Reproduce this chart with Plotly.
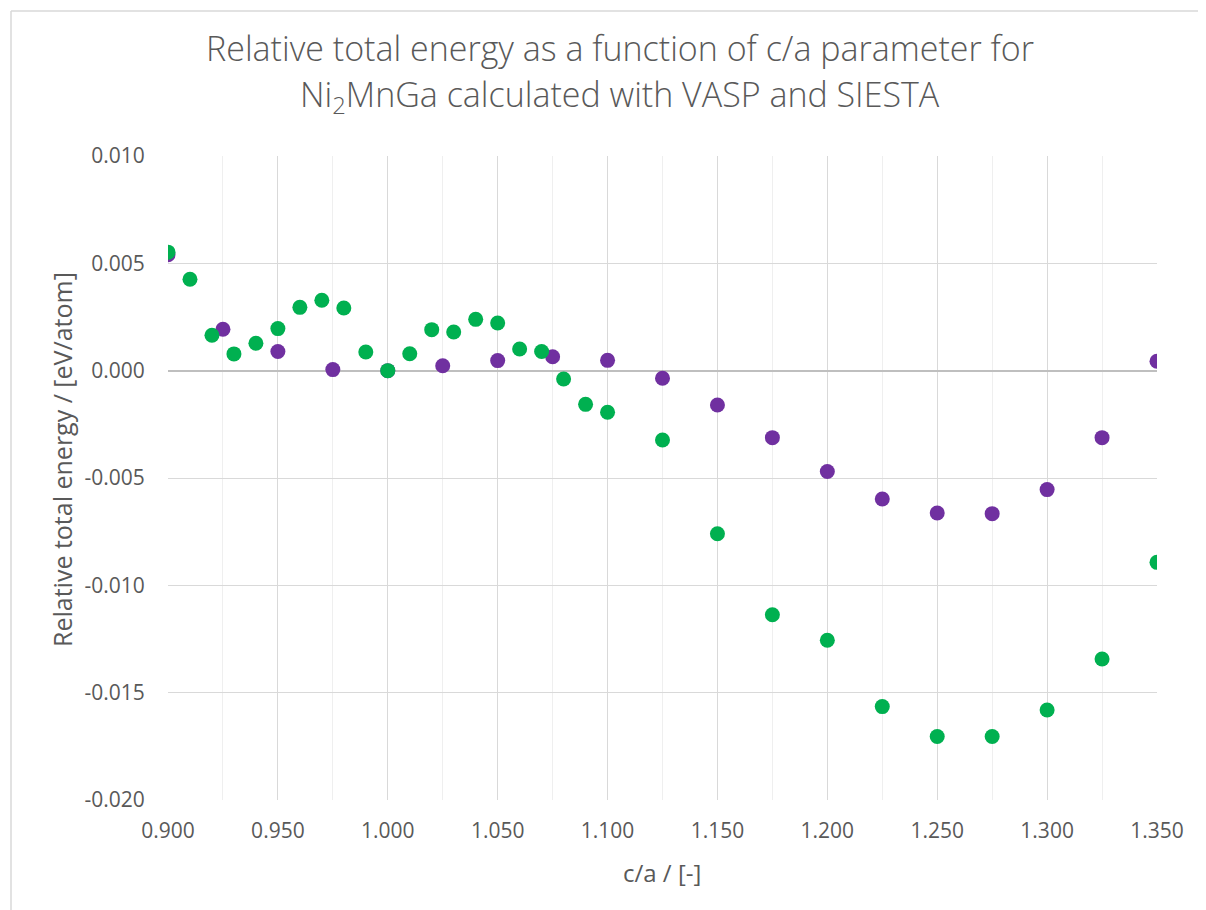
import plotly.graph_objects as go

# c/a values and relative total energies (eV/atom)
ca_purple = [0.900, 0.925, 0.950, 0.975, 1.000, 1.025, 1.050, 1.075, 1.100, 1.125,
             1.150, 1.175, 1.200, 1.225, 1.250, 1.275, 1.300, 1.325, 1.350]
e_purple = [0.0054, 0.00193, 0.00089, 0.00005, 0.0, 0.00023, 0.00047, 0.00065, 0.00048, -0.00035,
            -0.00160, -0.00312, -0.00470, -0.00598, -0.00663, -0.00666, -0.00554, -0.00312, 0.00044]

ca_green = [0.900, 0.910, 0.920, 0.930, 0.940, 0.950, 0.960, 0.970, 0.980, 0.990,
            1.000, 1.010, 1.020, 1.030, 1.040, 1.050, 1.060, 1.070, 1.080, 1.090,
            1.100, 1.125, 1.150, 1.175, 1.200, 1.225, 1.250, 1.275, 1.300, 1.325, 1.350]
e_green = [0.00552, 0.00426, 0.00165, 0.00078, 0.00128, 0.00196, 0.00295, 0.00328, 0.00292, 0.00087,
           0.0, 0.00079, 0.00191, 0.00180, 0.00239, 0.00222, 0.00101, 0.00089, -0.00039, -0.00157,
           -0.00194, -0.00323, -0.00760, -0.01137, -0.01256, -0.01565, -0.01704, -0.01704, -0.01581, -0.01343, -0.00893]

x_ticks = [0.900, 0.950, 1.000, 1.050, 1.100, 1.150, 1.200, 1.250, 1.300, 1.350]
x_labels = ["0.900", "0.950", "1.000", "1.050", "1.100", "1.150", "1.200", "1.250", "1.300", "1.350"]
y_ticks = [0.010, 0.005, 0.000, -0.005, -0.010, -0.015, -0.020]
y_labels = ["0.010", "0.005", "0.000", "-0.005", "-0.010", "-0.015", "-0.020"]

FONT = "Open Sans"
TXT = "#595959"

# page body has an 8px default margin; compensate so the plot sits where the reference has it
OFF = 8
L, T, PW, PH = 168 - OFF, 156 - OFF, 989, 644

fig = go.Figure()
fig.add_trace(go.Scatter(x=ca_purple, y=e_purple, mode="markers", name="VASP",
                         marker=dict(color="#7030A0", size=15, line=dict(width=0))))
fig.add_trace(go.Scatter(x=ca_green, y=e_green, mode="markers", name="SIESTA",
                         marker=dict(color="#00B050", size=15, line=dict(width=0))))

fig.update_layout(
    width=1206, height=910,
    margin=dict(l=L, r=1206 - L - PW, t=T, b=910 - T - PH),
    paper_bgcolor="white", plot_bgcolor="white",
    showlegend=False,
    font=dict(family=FONT, color=TXT),
)
fig.update_xaxes(
    range=[0.9, 1.35], tickvals=x_ticks, ticktext=x_labels,
    showgrid=True, gridcolor="#d9d9d9", gridwidth=1.3,
    minor=dict(dtick=0.025, tick0=0.9, showgrid=True, gridcolor="#efefef", gridwidth=1.3),
    zeroline=False, showline=False,
    tickfont=dict(size=21, color=TXT, family=FONT),
    ticks="outside", ticklen=12, tickcolor="rgba(0,0,0,0)",
)
fig.update_yaxes(
    range=[-0.02, 0.01], tickvals=y_ticks, ticktext=y_labels,
    showgrid=True, gridcolor="#d9d9d9", gridwidth=1.3,
    zeroline=True, zerolinecolor="#bfbfbf", zerolinewidth=2,
    showline=False,
    tickfont=dict(size=21, color=TXT, family=FONT),
    ticks="outside", ticklen=18, tickcolor="rgba(0,0,0,0)",
)

def px2x(px):
    return (px - 168) / PW

def py2y(py):
    return (800 - py) / PH

annos = [
    dict(text="Relative total energy as a function of c/a parameter for",
         x=px2x(620), y=py2y(48), font=dict(size=34, color=TXT, family=FONT, weight=300)),
    dict(text="Ni<sub>2</sub>MnGa calculated with VASP and SIESTA",
         x=px2x(620), y=py2y(96), font=dict(size=34, color=TXT, family=FONT, weight=300)),
    dict(text="c/a / [-]", x=px2x(662), y=py2y(872), font=dict(size=24, color=TXT, family=FONT)),
    dict(text="Relative total energy / [eV/atom]", x=px2x(62), y=py2y(460), textangle=-90,
         font=dict(size=25, color=TXT, family=FONT)),
]
for a in annos:
    fig.add_annotation(xref="paper", yref="paper", showarrow=False,
                       xanchor="center", yanchor="middle", **a)

# outer chart-area border (cropped at right/bottom)
fig.add_shape(type="line", xref="paper", yref="paper", x0=px2x(11), x1=px2x(1240),
              y0=py2y(11), y1=py2y(11), line=dict(color="#d9d9d9", width=1.5))
fig.add_shape(type="line", xref="paper", yref="paper", x0=px2x(11), x1=px2x(11),
              y0=py2y(11), y1=py2y(940), line=dict(color="#d9d9d9", width=1.5))

fig.write_html("out.html")
